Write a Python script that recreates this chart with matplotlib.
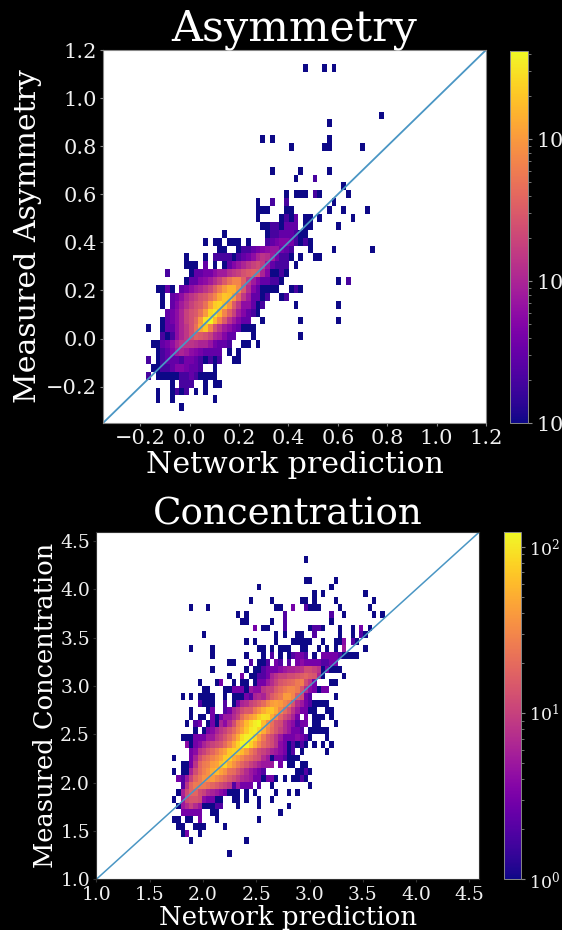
import numpy as np
import matplotlib
matplotlib.use('Agg')
import matplotlib.pyplot as plt
from matplotlib.colors import LogNorm

plt.rcParams['font.family'] = 'DejaVu Serif'

W, H = 562, 930

# histogram cells: (row from the top, first column, counts)
asym_cells = [
    (0, 33, [1]), (0, 37, [1]), (0, 39, [1]),
    (6, 49, [1]), (7, 38, [1]),
    (9, 24, [1]), (9, 26, [1]), (9, 38, [1]),
    (10, 30, [1]), (10, 37, [1, 1]), (10, 45, [1]),
    (13, 26, [1]), (13, 32, [1]), (13, 38, [1]),
    (14, 31, [1]), (14, 35, [2]), (15, 41, [1]),
    (16, 29, [1]), (16, 31, [1, 1, 1]), (16, 35, [2, 1]), (16, 42, [1]),
    (17, 23, [1]), (17, 26, [2]), (17, 29, [2]), (17, 39, [1]),
    (18, 23, [1, 1, 1]), (18, 29, [1, 1]), (18, 38, [1]), (18, 41, [1]), (18, 46, [1]),
    (19, 23, [1]), (19, 28, [1, 2, 1, 3]), (19, 33, [1, 1]), (19, 36, [1]), (19, 43, [1]),
    (20, 24, [1, 1, 2, 2, 1, 3, 3, 3]), (20, 33, [1, 1]), (20, 40, [1]),
    (21, 16, [1]), (21, 25, [1, 2, 2, 3, 3, 3, 2, 1, 1]),
    (22, 12, [1]), (22, 14, [1, 1]), (22, 17, [1, 1, 1]), (22, 21, [1]),
    (22, 25, [2, 3, 4, 5, 5, 4, 2, 1, 2, 1]),
    (23, 15, [1, 1]), (23, 19, [1, 2, 2, 3, 4, 5, 6, 7, 7, 4, 3, 2]), (23, 34, [1]), (23, 39, [1]), (23, 47, [1]),
    (24, 8, [1]), (24, 12, [1]), (24, 14, [2, 2, 2, 2, 1, 2, 3, 4, 6, 10, 14, 12, 8, 4, 2, 2, 1]), (24, 32, [1]), (24, 35, [1, 1]),
    (25, 8, [1, 1, 1]), (25, 12, [3]), (25, 14, [1]), (25, 16, [1, 3, 5, 7, 10, 14, 18, 22, 16, 7, 3, 2, 2, 2]), (25, 31, [1]),
    (26, 4, [2]), (26, 9, [1, 3, 3, 4, 4, 6, 8, 8, 12, 15, 18, 25, 30, 35, 30, 10, 5, 1, 1, 2, 1]),
    (27, 8, [1, 3, 3, 5, 6, 8, 12, 18, 30, 50, 70, 70, 35, 15, 8, 5, 3, 3, 2, 2, 1]), (27, 40, [1]), (27, 42, [2]),
    (28, 2, [1, 1, 3, 1]), (28, 7, [3, 4, 6, 8, 10, 14, 20, 35, 60, 100, 150, 150, 80, 30, 12, 5, 3, 1, 1, 1, 1]), (28, 30, [1, 2, 1]),
    (29, 3, [1]), (29, 5, [3, 4, 6, 10, 14, 18, 25, 30, 45, 70, 130, 200, 180, 100, 40, 15, 8, 3, 3, 1, 2]), (29, 28, [1, 2]),
    (30, 3, [1]), (30, 5, [3, 5, 8, 12, 18, 25, 30, 50, 110, 220, 250, 180, 90, 30, 15, 6, 6, 3, 1, 2]), (30, 31, [1]), (30, 40, [1]),
    (31, 4, [3, 4, 6, 10, 18, 25, 30, 50, 100, 250, 320, 170, 70, 35, 18, 8, 5, 3, 2, 1]),
    (32, 3, [1, 3, 4, 6, 10, 18, 25, 40, 100, 300, 420, 170, 70, 30, 14, 8, 5, 3, 3]), (32, 24, [1]), (32, 32, [1]), (32, 40, [1]),
    (33, 0, [1]), (33, 3, [1, 3, 3, 6, 10, 15, 25, 50, 130, 200, 70, 25, 14, 8, 6, 4, 3, 1]), (33, 21, [1, 1]),
    (34, 3, [2, 1, 2, 6, 10, 15, 25, 35, 30, 25, 18, 10, 8, 5, 3, 3]), (34, 22, [1]), (34, 32, [1]),
    (35, 1, [1, 1, 3, 4, 6, 10, 14, 14, 14, 12, 10, 10, 7, 4, 3, 3, 2]), (35, 20, [1, 1]), (35, 23, [1]),
    (36, 2, [1, 2, 3, 5, 8, 10, 8, 6, 5, 4, 3, 3, 3, 3]), (36, 17, [1]), (36, 19, [1]),
    (37, 0, [2]), (37, 2, [1, 2, 3, 3, 3, 2, 4, 4, 3, 2, 1, 2, 1, 2]), (37, 18, [1, 1]),
    (38, 1, [1, 1, 2, 2, 3, 5, 5, 4, 3, 3, 2]), (38, 14, [1]),
    (39, 0, [2]), (39, 2, [1, 1, 1, 1, 1, 2, 2, 3, 2, 1, 1, 1, 1]),
    (40, 5, [1]), (40, 7, [2, 2, 2]), (40, 12, [1]), (40, 14, [1, 1]),
    (41, 2, [1]), (41, 5, [1, 2, 1, 2]), (41, 10, [1]), (41, 12, [1]),
    (42, 2, [1]), (42, 5, [1]), (42, 14, [1]),
    (43, 7, [1]),
]

conc_cells = [
    (0, 31, [1]),
    (3, 31, [1, 1]), (3, 38, [1]),
    (4, 20, [1]), (4, 37, [1]),
    (5, 33, [1]), (5, 35, [1]), (5, 45, [1]),
    (6, 18, [1]), (6, 23, [1]), (6, 30, [1, 1]), (6, 33, [1]), (6, 38, [1]), (6, 47, [1]),
    (7, 4, [1]), (7, 8, [1]), (7, 24, [1, 1]), (7, 28, [3]), (7, 31, [2, 1, 1, 1]), (7, 39, [1]), (7, 46, [1]),
    (8, 15, [1]), (8, 17, [1]), (8, 26, [2]), (8, 37, [2]), (8, 40, [1]), (8, 47, [1]), (8, 49, [1]),
    (9, 16, [1, 1]), (9, 23, [1]), (9, 26, [2]), (9, 37, [1]),
    (10, 19, [3]), (10, 21, [1, 1]), (10, 26, [2]), (10, 32, [1, 2, 2, 1]), (10, 39, [1]), (10, 42, [1]), (10, 44, [3]), (10, 46, [1]),
    (11, 7, [1]), (11, 24, [1]), (11, 26, [1]), (11, 29, [1, 1]), (11, 33, [2]), (11, 39, [1]), (11, 42, [1]), (11, 44, [2, 1]),
    (12, 17, [1]), (12, 19, [1]), (12, 24, [1]), (12, 28, [1, 1, 1, 1, 1]), (12, 35, [1]), (12, 38, [1, 1, 4]), (12, 42, [2, 1]),
    (13, 4, [1]), (13, 9, [1]), (13, 20, [1, 1]), (13, 23, [1]), (13, 25, [1, 1, 1]), (13, 30, [1, 1]), (13, 34, [1]), (13, 36, [1]), (13, 38, [1]), (13, 40, [5]), (13, 45, [1]),
    (14, 9, [1]), (14, 17, [1]), (14, 21, [1]), (14, 23, [2]), (14, 25, [1]), (14, 27, [1, 2, 3, 3, 2]), (14, 33, [1]), (14, 35, [3, 3, 3, 3, 2, 1, 1, 1, 1]),
    (15, 13, [1, 1]), (15, 18, [2]), (15, 20, [1, 1, 2]), (15, 24, [3, 2]), (15, 27, [2]), (15, 29, [3, 4, 3, 3, 3, 3, 2, 2, 3, 3]),
    (16, 9, [1]), (16, 17, [1]), (16, 19, [1, 1, 2, 3, 3, 3, 4, 5, 6, 6, 7, 8, 12, 12, 10, 8, 1, 3, 1, 1, 1]),
    (17, 13, [1]), (17, 16, [3]), (17, 18, [1, 1, 2, 2, 3, 6, 8, 10, 10, 12, 12, 14, 16, 18, 15, 14, 6, 1]), (17, 40, [1]),
    (18, 6, [1]), (18, 10, [1, 3]), (18, 14, [1]), (18, 16, [1, 1]), (18, 19, [1, 3, 3, 5, 7, 10, 14, 16, 18, 20, 25, 28, 12, 8, 3]), (18, 37, [1, 1]),
    (19, 7, [1, 1]), (19, 12, [1, 1, 3, 3, 3, 1, 5, 4, 4, 8, 10, 10, 15, 20, 25, 30, 30, 25, 14, 7, 4, 3, 1, 3, 3]),
    (20, 2, [1]), (20, 4, [1]), (20, 6, [1, 1, 1, 1]), (20, 12, [1]), (20, 14, [1, 1, 1, 3, 2, 6, 7, 6, 10, 15, 20, 25, 40, 40, 30, 15, 12, 3, 2]), (20, 38, [1]),
    (21, 6, [2, 1, 1, 1]), (21, 12, [2]), (21, 14, [1, 3, 6, 7, 10, 12, 15, 20, 30, 40, 45, 40, 30, 25, 14, 7, 5, 3, 2, 1, 1, 1, 1]),
    (22, 4, [1]), (22, 8, [1, 3]), (22, 12, [2, 3, 6, 8, 12, 15, 15, 25, 35, 50, 65, 70, 50, 30, 20, 14, 8, 5, 3, 3, 1, 1]), (22, 36, [1, 1]),
    (23, 4, [1]), (23, 6, [1, 1]), (23, 9, [3, 1, 3, 5, 5, 7, 10, 20, 30, 40, 50, 75, 95, 90, 50, 30, 18, 12, 9, 6, 3]), (23, 31, [3]), (23, 33, [1, 1, 1]), (23, 37, [1]),
    (24, 3, [1]), (24, 5, [2, 3]), (24, 8, [1, 3, 1, 6, 4, 7, 12, 25, 35, 60, 85, 105, 120, 60, 35, 22, 14, 12, 7, 5, 4, 2, 3, 3]), (24, 33, [1, 1]), (24, 38, [1]),
    (25, 5, [1]), (25, 7, [1, 3, 4, 6, 8, 10, 14, 20, 30, 45, 70, 100, 110, 80, 50, 30, 20, 14, 10, 7, 5, 3, 3, 2]), (25, 32, [1, 1, 1, 1, 1]),
    (26, 2, [1, 1, 1, 3, 3, 3, 5, 5, 8, 10, 14, 20, 30, 50, 90, 110, 110, 80, 45, 25, 15, 12, 8, 5, 3, 3, 3, 4, 3, 2, 1]), (26, 36, [1]),
    (27, 3, [4, 1, 3, 4, 6, 8, 10, 12, 14, 20, 30, 50, 80, 115, 120, 80, 50, 30, 20, 15, 12, 8, 4, 3, 1, 2, 1, 2, 1]), (27, 33, [1]), (27, 35, [1]), (27, 37, [1]),
    (28, 4, [3, 4, 8, 10, 14, 18, 25, 35, 45, 70, 80, 75, 60, 40, 25, 18, 12, 10, 8, 6, 5, 4, 3, 1, 2]), (28, 30, [1]), (28, 36, [1]),
    (29, 0, [1]), (29, 4, [3, 6, 12, 18, 22, 28, 35, 45, 70, 75, 50, 40, 30, 22, 18, 14, 12, 7, 5, 1, 3, 3, 2, 1, 1, 1]),
    (30, 2, [1, 1, 3, 8, 18, 25, 28, 40, 45, 65, 80, 50, 35, 25, 18, 14, 10, 8, 6, 5, 5, 5]), (30, 25, [3]), (30, 27, [1, 1]), (30, 30, [1, 1]),
    (31, 0, [1]), (31, 2, [1, 1, 6, 12, 20, 28, 35, 50, 60, 45, 35, 22, 20, 14, 10, 7, 5, 4, 3, 2]), (31, 29, [1, 1, 2, 1]),
    (32, 1, [3, 2, 5, 10, 18, 25, 35, 35, 40, 30, 25, 20, 15, 12, 9, 7, 6, 5, 3, 3, 1, 3, 3, 1]), (32, 26, [1]), (32, 28, [1, 1, 2, 1]),
    (33, 2, [2, 8, 18, 25, 25, 25, 22, 18, 15, 12, 10, 8, 2, 5, 3, 3, 3]), (33, 20, [2]), (33, 23, [1]), (33, 32, [1]),
    (34, 1, [1, 6, 12, 18, 18, 12, 10, 7, 6, 5, 4, 3, 1, 1, 1]), (34, 17, [1]), (34, 19, [1]), (34, 24, [1]), (34, 27, [1]), (34, 29, [1]),
    (35, 0, [1]), (35, 2, [5, 12, 14, 14, 12, 4, 3, 3, 1, 1]), (35, 14, [1, 1]), (35, 17, [1]), (35, 20, [1]), (35, 23, [1]),
    (36, 1, [1, 5, 7, 10, 7, 5, 1, 1, 1, 2, 2]), (36, 15, [1]), (36, 20, [1]), (36, 27, [1]),
    (37, 2, [3, 3, 3, 3, 3]), (37, 9, [1, 1]), (37, 25, [1]),
    (38, 0, [1, 1]), (38, 3, [1, 1]), (38, 6, [3]), (38, 10, [1]), (38, 20, [1]),
    (39, 1, [1, 1]), (39, 5, [1, 1, 1]), (39, 12, [1]),
    (40, 2, [1, 3]), (40, 6, [1]),
    (41, 4, [1]), (41, 17, [1]),
    (43, 13, [1]),
]

asym_x_edges = np.linspace(-0.177, 0.787, 51)
asym_y_edges = np.linspace(1.141, -0.302, 45)
conc_x_edges = np.linspace(1.712, 3.705, 51)
conc_y_edges = np.linspace(4.343, 1.228, 45)

asym_ticks = [-0.2, 0.0, 0.2, 0.4, 0.6, 0.8, 1.0, 1.2]
conc_ticks = [1.0, 1.5, 2.0, 2.5, 3.0, 3.5, 4.0, 4.5]


def axes_px(fig, left, top, right, bottom):
    return fig.add_axes([left / W, 1 - bottom / H, (right - left) / W, (bottom - top) / H])


def build_grid(cells, rows=44, cols=50):
    grid = np.zeros((rows, cols))
    for row, col, counts in cells:
        grid[row, col:col + len(counts)] = counts
    return np.ma.masked_equal(grid, 0)


def panel(fig, box, cbox, cells, x_edges, y_edges, lims, ticks, vmax, title, ylabel, st):
    ax = axes_px(fig, *box)
    ax.set_facecolor('white')
    mesh = ax.pcolormesh(x_edges, y_edges, build_grid(cells), cmap='plasma', norm=LogNorm(1, vmax))
    ax.plot(lims, lims, color='#4a96c4', lw=st['lw'])
    ax.set_xlim(lims)
    ax.set_ylim(lims)
    ax.set_xticks(ticks)
    ax.set_yticks(ticks)
    ax.tick_params(labelcolor='#f0f0f0', labelsize=st['tick'], color=st['edge'], length=2, pad=2.5)
    for s in ax.spines.values():
        s.set_color(st['edge'])
    ax.set_xlabel('Network prediction', color='white', fontsize=st['xlabel'], labelpad=st['xpad'])
    ax.set_ylabel(ylabel, color='white', fontsize=st['ylabel'], labelpad=st['ypad'])
    ax.set_title(title, color='white', fontsize=st['title'], pad=st['tpad'])

    cax = axes_px(fig, *cbox)
    cb = fig.colorbar(mesh, cax=cax)
    cb.ax.tick_params(which='major', labelcolor='#f0f0f0', labelsize=st['ctick'], color='#888888', length=3, pad=2.5)
    cb.ax.tick_params(which='minor', color='#888888', length=1.8)
    cb.outline.set_edgecolor('#888888')
    cb.outline.set_linewidth(0.7)
    return ax


fig = plt.figure(figsize=(W / 100, H / 100), dpi=100, facecolor='black')

panel(fig, (103.3, 50, 486, 422.7), (509.5, 50.7, 528, 423),
      asym_cells, asym_x_edges, asym_y_edges, [-0.35, 1.2], asym_ticks, 420,
      'Asymmetry', 'Measured Asymmetry',
      dict(tick=15, ctick=15, xlabel=21.6, ylabel=21.6, title=30.9, xpad=2.5, ypad=3, tpad=3.5, lw=1.3, edge='#888888'))

panel(fig, (96.3, 532.3, 479, 879.3), (504.3, 532.3, 521.3, 879.3),
      conc_cells, conc_x_edges, conc_y_edges, [1.0, 4.59], conc_ticks, 122,
      'Concentration', 'Measured Concentration',
      dict(tick=13.5, ctick=12.5, xlabel=18.7, ylabel=18.5, title=26.8, xpad=1, ypad=1.5, tpad=3, lw=1.1, edge='#333333'))

fig.savefig('out.png', dpi=100, facecolor='black')
